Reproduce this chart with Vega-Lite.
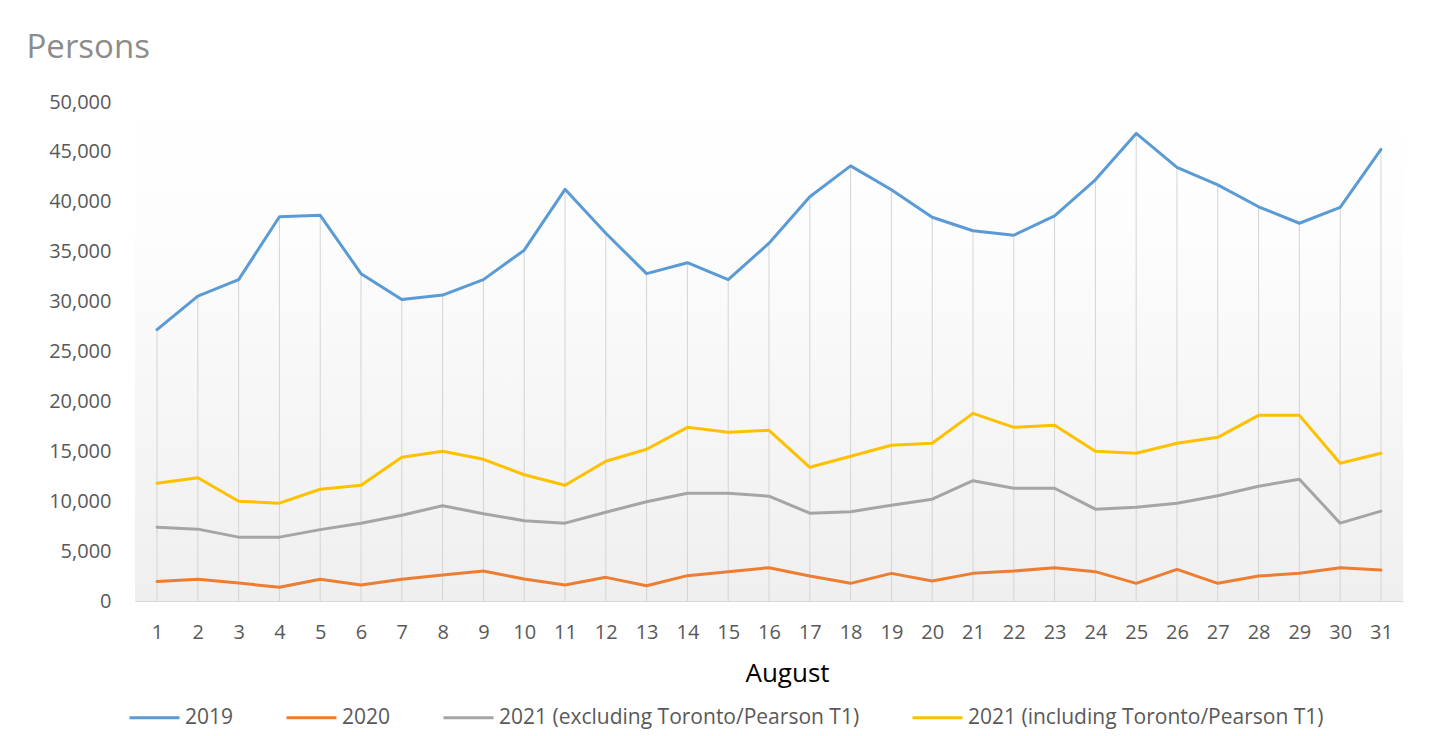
{
  "$schema": "https://vega.github.io/schema/vega-lite/v6.json",
  "width": 1268,
  "height": 499,
  "autosize": {"type": "none"},
  "padding": {"left": 135, "top": 102, "right": 26, "bottom": 135},
  "background": "#ffffff",
  "config": {
    "font": "Open Sans",
    "view": {
      "stroke": null,
      "fill": {"gradient": "linear", "x1": 0, "y1": 0, "x2": 0, "y2": 1,
        "stops": [{"offset": 0, "color": "#ffffff"}, {"offset": 0.25, "color": "#fdfdfd"}, {"offset": 1, "color": "#efefef"}]}
    }
  },
  "data": {
    "values": [
      {"day":1,"series":"2019","value":27200},{"day":2,"series":"2019","value":30550},{"day":3,"series":"2019","value":32200},{"day":4,"series":"2019","value":38500},{"day":5,"series":"2019","value":38650},{"day":6,"series":"2019","value":32800},{"day":7,"series":"2019","value":30200},{"day":8,"series":"2019","value":30650},{"day":9,"series":"2019","value":32200},{"day":10,"series":"2019","value":35150},{"day":11,"series":"2019","value":41250},{"day":12,"series":"2019","value":36850},{"day":13,"series":"2019","value":32800},{"day":14,"series":"2019","value":33900},{"day":15,"series":"2019","value":32200},{"day":16,"series":"2019","value":35850},{"day":17,"series":"2019","value":40500},{"day":18,"series":"2019","value":43600},{"day":19,"series":"2019","value":41200},{"day":20,"series":"2019","value":38450},{"day":21,"series":"2019","value":37100},{"day":22,"series":"2019","value":36650},{"day":23,"series":"2019","value":38600},{"day":24,"series":"2019","value":42200},{"day":25,"series":"2019","value":46850},{"day":26,"series":"2019","value":43450},{"day":27,"series":"2019","value":41700},{"day":28,"series":"2019","value":39500},{"day":29,"series":"2019","value":37850},{"day":30,"series":"2019","value":39450},{"day":31,"series":"2019","value":45250},
      {"day":1,"series":"2020","value":1950},{"day":2,"series":"2020","value":2170},{"day":3,"series":"2020","value":1800},{"day":4,"series":"2020","value":1370},{"day":5,"series":"2020","value":2170},{"day":6,"series":"2020","value":1600},{"day":7,"series":"2020","value":2170},{"day":8,"series":"2020","value":2600},{"day":9,"series":"2020","value":3000},{"day":10,"series":"2020","value":2200},{"day":11,"series":"2020","value":1600},{"day":12,"series":"2020","value":2370},{"day":13,"series":"2020","value":1530},{"day":14,"series":"2020","value":2540},{"day":15,"series":"2020","value":2940},{"day":16,"series":"2020","value":3340},{"day":17,"series":"2020","value":2500},{"day":18,"series":"2020","value":1770},{"day":19,"series":"2020","value":2770},{"day":20,"series":"2020","value":2000},{"day":21,"series":"2020","value":2770},{"day":22,"series":"2020","value":3000},{"day":23,"series":"2020","value":3340},{"day":24,"series":"2020","value":2940},{"day":25,"series":"2020","value":1770},{"day":26,"series":"2020","value":3170},{"day":27,"series":"2020","value":1770},{"day":28,"series":"2020","value":2500},{"day":29,"series":"2020","value":2770},{"day":30,"series":"2020","value":3340},{"day":31,"series":"2020","value":3100},
      {"day":1,"series":"2021 (excluding Toronto/Pearson T1)","value":7400},{"day":2,"series":"2021 (excluding Toronto/Pearson T1)","value":7200},{"day":3,"series":"2021 (excluding Toronto/Pearson T1)","value":6400},{"day":4,"series":"2021 (excluding Toronto/Pearson T1)","value":6400},{"day":5,"series":"2021 (excluding Toronto/Pearson T1)","value":7150},{"day":6,"series":"2021 (excluding Toronto/Pearson T1)","value":7800},{"day":7,"series":"2021 (excluding Toronto/Pearson T1)","value":8600},{"day":8,"series":"2021 (excluding Toronto/Pearson T1)","value":9550},{"day":9,"series":"2021 (excluding Toronto/Pearson T1)","value":8750},{"day":10,"series":"2021 (excluding Toronto/Pearson T1)","value":8050},{"day":11,"series":"2021 (excluding Toronto/Pearson T1)","value":7800},{"day":12,"series":"2021 (excluding Toronto/Pearson T1)","value":8900},{"day":13,"series":"2021 (excluding Toronto/Pearson T1)","value":9950},{"day":14,"series":"2021 (excluding Toronto/Pearson T1)","value":10800},{"day":15,"series":"2021 (excluding Toronto/Pearson T1)","value":10800},{"day":16,"series":"2021 (excluding Toronto/Pearson T1)","value":10500},{"day":17,"series":"2021 (excluding Toronto/Pearson T1)","value":8800},{"day":18,"series":"2021 (excluding Toronto/Pearson T1)","value":8950},{"day":19,"series":"2021 (excluding Toronto/Pearson T1)","value":9600},{"day":20,"series":"2021 (excluding Toronto/Pearson T1)","value":10200},{"day":21,"series":"2021 (excluding Toronto/Pearson T1)","value":12050},{"day":22,"series":"2021 (excluding Toronto/Pearson T1)","value":11300},{"day":23,"series":"2021 (excluding Toronto/Pearson T1)","value":11300},{"day":24,"series":"2021 (excluding Toronto/Pearson T1)","value":9200},{"day":25,"series":"2021 (excluding Toronto/Pearson T1)","value":9400},{"day":26,"series":"2021 (excluding Toronto/Pearson T1)","value":9800},{"day":27,"series":"2021 (excluding Toronto/Pearson T1)","value":10550},{"day":28,"series":"2021 (excluding Toronto/Pearson T1)","value":11500},{"day":29,"series":"2021 (excluding Toronto/Pearson T1)","value":12200},{"day":30,"series":"2021 (excluding Toronto/Pearson T1)","value":7800},{"day":31,"series":"2021 (excluding Toronto/Pearson T1)","value":9000},
      {"day":1,"series":"2021 (including Toronto/Pearson T1)","value":11800},{"day":2,"series":"2021 (including Toronto/Pearson T1)","value":12350},{"day":3,"series":"2021 (including Toronto/Pearson T1)","value":10000},{"day":4,"series":"2021 (including Toronto/Pearson T1)","value":9800},{"day":5,"series":"2021 (including Toronto/Pearson T1)","value":11200},{"day":6,"series":"2021 (including Toronto/Pearson T1)","value":11600},{"day":7,"series":"2021 (including Toronto/Pearson T1)","value":14400},{"day":8,"series":"2021 (including Toronto/Pearson T1)","value":15000},{"day":9,"series":"2021 (including Toronto/Pearson T1)","value":14200},{"day":10,"series":"2021 (including Toronto/Pearson T1)","value":12650},{"day":11,"series":"2021 (including Toronto/Pearson T1)","value":11600},{"day":12,"series":"2021 (including Toronto/Pearson T1)","value":14000},{"day":13,"series":"2021 (including Toronto/Pearson T1)","value":15200},{"day":14,"series":"2021 (including Toronto/Pearson T1)","value":17400},{"day":15,"series":"2021 (including Toronto/Pearson T1)","value":16900},{"day":16,"series":"2021 (including Toronto/Pearson T1)","value":17100},{"day":17,"series":"2021 (including Toronto/Pearson T1)","value":13400},{"day":18,"series":"2021 (including Toronto/Pearson T1)","value":14500},{"day":19,"series":"2021 (including Toronto/Pearson T1)","value":15600},{"day":20,"series":"2021 (including Toronto/Pearson T1)","value":15800},{"day":21,"series":"2021 (including Toronto/Pearson T1)","value":18800},{"day":22,"series":"2021 (including Toronto/Pearson T1)","value":17400},{"day":23,"series":"2021 (including Toronto/Pearson T1)","value":17600},{"day":24,"series":"2021 (including Toronto/Pearson T1)","value":15000},{"day":25,"series":"2021 (including Toronto/Pearson T1)","value":14800},{"day":26,"series":"2021 (including Toronto/Pearson T1)","value":15800},{"day":27,"series":"2021 (including Toronto/Pearson T1)","value":16400},{"day":28,"series":"2021 (including Toronto/Pearson T1)","value":18600},{"day":29,"series":"2021 (including Toronto/Pearson T1)","value":18600},{"day":30,"series":"2021 (including Toronto/Pearson T1)","value":13800},{"day":31,"series":"2021 (including Toronto/Pearson T1)","value":14800}
    ]
  },
  "encoding": {
    "x": {
      "field": "day", "type": "ordinal",
      "scale": {"type": "point", "padding": 0.54},
      "axis": {
        "labelAngle": 0, "ticks": false, "grid": false,
        "domainColor": "#d9d9d9", "domainWidth": 1,
        "labelFontSize": 20, "labelColor": "#595959", "labelPadding": 31, "labelBaseline": "middle",
        "title": "August", "titleFontSize": 26, "titleFontWeight": "normal", "titleColor": "#000000",
        "titleX": 652, "titleY": 72, "titleBaseline": "middle", "titleAlign": "center", "titleAnchor": null
      }
    }
  },
  "layer": [
    {
      "transform": [{"filter": "datum.series === '2019'"}],
      "mark": {"type": "rule", "color": "#d4d4d4", "strokeWidth": 1},
      "encoding": {
        "y": {"field": "value", "type": "quantitative"},
        "y2": {"datum": 0}
      }
    },
    {
      "mark": {"type": "line", "strokeWidth": 3, "strokeCap": "round", "strokeJoin": "round"},
      "encoding": {
        "y": {
          "field": "value", "type": "quantitative",
          "scale": {"domain": [0, 50000], "nice": false},
          "axis": {
            "values": [0, 5000, 10000, 15000, 20000, 25000, 30000, 35000, 40000, 45000, 50000],
            "format": ",.0f", "grid": false, "ticks": false, "domain": false,
            "labelFontSize": 20, "labelColor": "#595959", "labelPadding": 24,
            "title": "Persons", "titleAngle": 0, "titleFontSize": 33, "titleFontWeight": "normal",
            "titleColor": "#8c8c8c", "titleX": -109, "titleY": -55, "titleAlign": "left",
            "titleBaseline": "middle", "titleAnchor": null
          }
        },
        "color": {
          "field": "series", "type": "nominal",
          "scale": {
            "domain": ["2019", "2020", "2021 (excluding Toronto/Pearson T1)", "2021 (including Toronto/Pearson T1)"],
            "range": ["#5b9bd5", "#ed7d31", "#a5a5a5", "#ffc000"]
          },
          "legend": {
            "title": null, "orient": "none", "direction": "horizontal",
            "legendX": -7, "legendY": 589,
            "symbolType": "stroke", "symbolSize": 2500, "symbolStrokeWidth": 3,
            "labelFontSize": 21, "labelColor": "#595959", "labelOffset": 4,
            "columnPadding": 46, "labelLimit": 500
          }
        }
      }
    }
  ]
}
